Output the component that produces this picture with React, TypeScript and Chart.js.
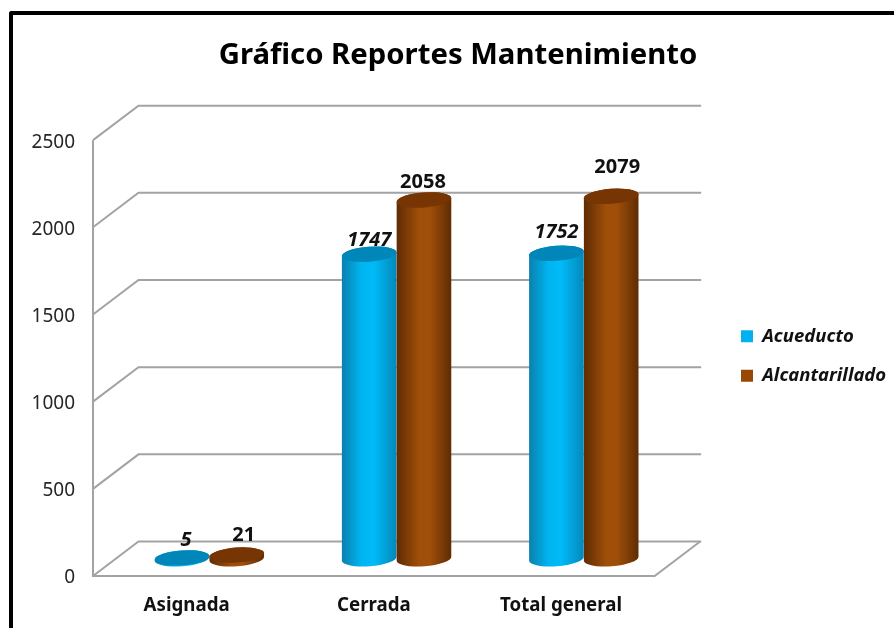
import React, { useEffect, useRef } from "react";
import { Chart, registerables } from "chart.js";

Chart.register(...registerables);

const TITLE = "Gráfico Reportes Mantenimiento";
const categories = ["Asignada", "Cerrada", "Total general"];
const acueducto = [5, 1747, 1752];
const alcantarillado = [21, 2058, 2079];
const seriesNames = ["Acueducto", "Alcantarillado"];
const yTicks = [0, 500, 1000, 1500, 2000, 2500];

const FONT = "'Noto Sans', sans-serif";
const DEPTH_X = 45.5;
const DEPTH_Y = 34.5;
const GRID = "#A3A3A3";

const palettes = [
  {
    stops: [[0, "#0B7FAE"], [0.35, "#00B4F0"], [0.58, "#00BBF8"], [1, "#0488BA"]],
    top: "#0086B8",
    legend: "#00B0F0",
  },
  {
    stops: [[0, "#5F2C02"], [0.42, "#A04F0A"], [0.6, "#A04F0A"], [1, "#5F2C02"]],
    top: "#763502",
    legend: "#974706",
  },
];
const labelStyles = ["italic bold", "bold"];
// hand placement of the value labels, as [dx, dy] per series and category
const labelNudges = [
  [[4, 2], [0, 6], [0, -1]],
  [[7, 0], [-1, 2], [6, -9]],
];
const LEGEND_LEFT = 720;
const LEGEND_DY = 42;

const cylinderPlugin = {
  id: "cylinder3d",
  afterLayout(chart: any) {
    const lg = chart.legend;
    lg.left = LEGEND_LEFT;
    lg.right = 894;
    lg.width = lg.right - lg.left;
    lg.top += LEGEND_DY;
    lg.bottom += LEGEND_DY;
  },
  beforeDatasetsDraw(chart: any) {
    const { ctx, chartArea, scales } = chart;
    const y = scales.y;
    const { left, right, bottom } = chartArea;
    ctx.save();
    ctx.strokeStyle = GRID;
    ctx.lineWidth = 2;
    ctx.lineJoin = "miter";
    for (const tick of y.ticks) {
      const py = y.getPixelForValue(tick.value);
      ctx.beginPath();
      ctx.moveTo(left, py);
      ctx.lineTo(left + DEPTH_X, py - DEPTH_Y);
      ctx.lineTo(right + DEPTH_X + 1, py - DEPTH_Y);
      ctx.stroke();
    }
    ctx.beginPath();
    ctx.moveTo(left, y.getPixelForValue(2500));
    ctx.lineTo(left, bottom);
    ctx.lineTo(right, bottom);
    ctx.lineTo(right + DEPTH_X, bottom - DEPTH_Y);
    ctx.stroke();
    ctx.restore();

    const rot = (-4.2 * Math.PI) / 180;
    chart.data.datasets.forEach((ds: any, di: number) => {
      const meta = chart.getDatasetMeta(di);
      const pal = palettes[di];
      meta.data.forEach((bar: any) => {
        const p = bar.getProps(["x", "y", "base", "width"], true);
        const cx = p.x + DEPTH_X / 2;
        const topY = p.y - DEPTH_Y / 2;
        const baseY = p.base - DEPTH_Y / 2;
        const rx = p.width / 2;
        const ry = 7.5;
        const g = ctx.createLinearGradient(cx - rx, 0, cx + rx, 0);
        pal.stops.forEach((s: any) => g.addColorStop(s[0], s[1]));
        ctx.save();
        ctx.fillStyle = g;
        ctx.beginPath();
        ctx.ellipse(cx, baseY, rx, ry, rot, 0, Math.PI, false);
        ctx.ellipse(cx, topY, rx, ry, rot, Math.PI, Math.PI * 2, false);
        ctx.closePath();
        ctx.fill();
        ctx.fillStyle = pal.top;
        ctx.beginPath();
        ctx.ellipse(cx, topY, rx, ry, rot, 0, Math.PI * 2);
        ctx.fill();
        ctx.restore();
      });
    });
  },
  beforeDatasetDraw() {
    return false;
  },
  afterDatasetsDraw(chart: any) {
    const { ctx } = chart;
    chart.data.datasets.forEach((ds: any, di: number) => {
      const meta = chart.getDatasetMeta(di);
      meta.data.forEach((bar: any, i: number) => {
        const p = bar.getProps(["x", "y"], true);
        const [dx, dy] = labelNudges[di][i];
        ctx.save();
        ctx.font = `${labelStyles[di]} 20px ${FONT}`;
        ctx.fillStyle = "#111111";
        ctx.textAlign = "center";
        ctx.textBaseline = "middle";
        ctx.fillText(String(ds.data[i]), p.x + DEPTH_X / 2 + dx, p.y - DEPTH_Y / 2 - 20 + dy);
        ctx.restore();
      });
    });
  },
};

export default function App() {
  const ref = useRef<HTMLCanvasElement | null>(null);
  useEffect(() => {
    document.body.style.margin = "0";
    const chart = new Chart(ref.current as HTMLCanvasElement, {
      type: "bar",
      data: {
        labels: categories,
        datasets: [
          { label: seriesNames[0], data: acueducto, backgroundColor: palettes[0].legend },
          { label: seriesNames[1], data: alcantarillado, backgroundColor: palettes[1].legend },
        ],
      },
      plugins: [cylinderPlugin],
      options: {
        responsive: false,
        animation: false,
        layout: { padding: { left: 22, right: 0, top: 0, bottom: 0 } },
        datasets: { bar: { categoryPercentage: 0.585, barPercentage: 1 } },
        plugins: {
          title: {
            display: true,
            text: TITLE,
            color: "#000000",
            font: { family: FONT, size: 29.3, weight: "bold" },
            padding: { top: 38, bottom: 67 },
          },
          legend: {
            position: "right",
            labels: {
              boxWidth: 12,
              boxHeight: 12,
              padding: 21,
              color: "#111111",
              font: { family: FONT, size: 18.5, weight: "bold", style: "italic" },
            },
          },
          tooltip: { enabled: false },
        },
        scales: {
          x: {
            grid: { display: false },
            border: { display: false },
            ticks: { color: "#111111", font: { family: FONT, size: 18.7, weight: "bold" }, padding: 10 },
            afterFit(s: any) { s.height = 52; },
          },
          y: {
            min: 0,
            max: 2500,
            afterBuildTicks(s: any) { s.ticks = yTicks.map((value) => ({ value })); },
            grid: { display: false },
            border: { display: false },
            ticks: { color: "#262626", font: { family: FONT, size: 19 }, padding: 10, labelOffset: 2, callback: (v: any) => String(v) },
            afterFit(s: any) { s.width = 71; },
          },
          spacer: {
            position: "right",
            grid: { display: false },
            border: { display: false },
            ticks: { display: false },
            afterFit(s: any) { s.width = 94; },
          },
        },
      },
    } as any);
    return () => chart.destroy();
  }, []);
  return (
    <div style={{ position: "relative", width: 894, height: 628, overflow: "hidden", background: "#fff" }}>
      <canvas ref={ref} width={894} height={628} style={{ display: "block" }} />
      <div style={{ position: "absolute", left: 9, top: 11, right: 0, bottom: -10, borderLeft: "4px solid #000", borderTop: "4px solid #000", borderTopLeftRadius: 3, pointerEvents: "none" }} />
    </div>
  );
}
